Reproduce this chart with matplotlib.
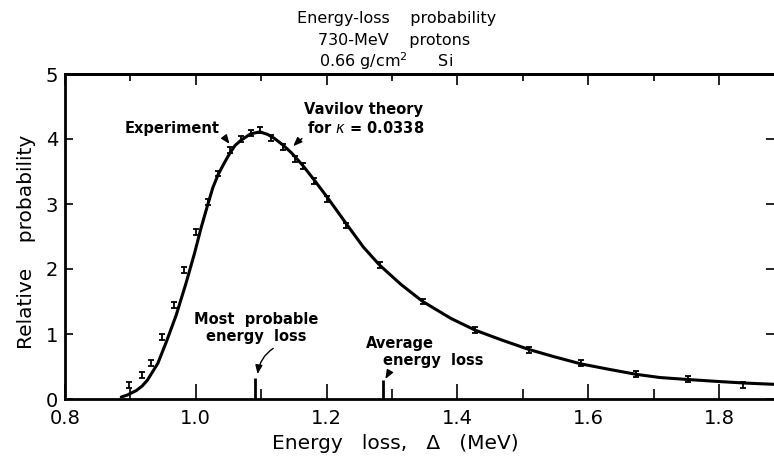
import matplotlib
matplotlib.use("Agg")
import matplotlib.pyplot as plt
from matplotlib.ticker import MultipleLocator, FuncFormatter

# Vavilov theory curve
theory_x = [0.886, 0.895, 0.909, 0.918, 0.926, 0.942, 0.955, 0.970, 0.985, 0.998,
            1.008, 1.018, 1.026, 1.034, 1.044, 1.052, 1.060, 1.069, 1.084, 1.098,
            1.110, 1.120, 1.133, 1.146, 1.163, 1.181, 1.202, 1.232, 1.256, 1.281,
            1.314, 1.347, 1.390, 1.427, 1.467, 1.510, 1.548, 1.589, 1.630,
            1.673, 1.710, 1.752, 1.798, 1.840, 1.886]
theory_y = [0.03, 0.06, 0.13, 0.20, 0.29, 0.55, 0.88, 1.29, 1.78, 2.24,
            2.63, 2.98, 3.25, 3.45, 3.64, 3.78, 3.90, 3.98, 4.08, 4.11,
            4.07, 4.01, 3.91, 3.79, 3.60, 3.37, 3.09, 2.67, 2.34, 2.06,
            1.76, 1.50, 1.24, 1.06, 0.91, 0.76, 0.65, 0.54, 0.46,
            0.38, 0.33, 0.30, 0.27, 0.245, 0.225]

# experimental points
exp_x = [0.898, 0.917, 0.931, 0.949, 0.966, 0.982, 1.000, 1.018, 1.034, 1.052,
         1.069, 1.084, 1.098, 1.115, 1.134, 1.151, 1.164, 1.181, 1.200, 1.230,
         1.281, 1.347, 1.427, 1.510, 1.589, 1.673, 1.752, 1.836]
exp_y = [0.22, 0.37, 0.56, 0.95, 1.45, 1.98, 2.57, 3.03, 3.47, 3.83,
         4.00, 4.09, 4.14, 4.01, 3.88, 3.69, 3.59, 3.35, 3.08, 2.67,
         2.06, 1.50, 1.06, 0.76, 0.55, 0.39, 0.31, 0.22]
exp_err = 0.045

# markers for most probable and average energy loss
mp_loss, mp_height = 1.090, 0.32
avg_loss, avg_height = 1.286, 0.29

title_lines = ["Energy-loss    probability", "730-MeV    protons", "0.66 g/cm$^2$      Si"]

W, H = 774, 461
fig = plt.figure(figsize=(W / 100, H / 100), dpi=100)
ax = fig.add_axes([65 / W, 62 / H, 709 / W, 325 / H])

ax.plot(theory_x, theory_y, color="black", lw=2.2, solid_capstyle="round",
        solid_joinstyle="round")
ax.errorbar(exp_x, exp_y, yerr=exp_err, fmt="none", ecolor="black",
            elinewidth=1.3, capsize=2.2, capthick=1.3)
ax.vlines([mp_loss, avg_loss], 0, [mp_height, avg_height], color="black", lw=2)

ax.set_xlim(0.8, 0.8 + 709 / 654)
ax.set_ylim(0, 5)

for side in ["left", "top", "bottom"]:
    ax.spines[side].set_linewidth(2)
ax.spines["right"].set_visible(False)

ax.xaxis.set_major_locator(MultipleLocator(0.2))
ax.xaxis.set_minor_locator(MultipleLocator(0.1))
ax.yaxis.set_major_locator(MultipleLocator(1))
ax.xaxis.set_major_formatter(FuncFormatter(lambda v, p: f"{v:.1f}"))
ax.tick_params(axis="x", which="major", direction="in", length=11, width=1.2,
               labelsize=14, pad=7)
ax.tick_params(axis="x", which="minor", direction="in", length=7, width=1.2)
ax.tick_params(axis="y", direction="in", length=6, width=1.2, right=True,
               labelsize=14, pad=5)

top = ax.secondary_xaxis("top")
top.xaxis.set_major_locator(MultipleLocator(0.2))
top.xaxis.set_minor_locator(MultipleLocator(0.1))
top.tick_params(which="major", direction="in", length=8, width=1.2, labeltop=False)
top.tick_params(which="minor", direction="in", length=5, width=1.2)
top.spines["top"].set_linewidth(2)

# titles and axis labels
for i, line in enumerate(title_lines):
    fig.text([397, 394, 386][i] / W, 1 - [18, 40, 61][i] / H, line,
             ha="center", va="center", fontsize=11.5)
fig.text(27 / W, 1 - 242 / H, "Relative    probability", rotation=90,
         ha="center", va="center", fontsize=14.5)
fig.text(395 / W, 1 - 443 / H, "Energy   loss,   \u0394   (MeV)",
         ha="center", va="center", fontsize=14.5)

arrow = dict(arrowstyle="-|>,head_length=0.5,head_width=0.2", color="black", lw=1)
note = dict(fontsize=10.5, fontweight="bold")

ax.annotate("Experiment", xy=(1.054, 3.89), xytext=(1.037, 4.16),
            ha="right", va="center", **note,
            arrowprops=dict(arrow, connectionstyle="arc3,rad=-0.4"))
ax.text(1.165, 4.45, "Vavilov theory", ha="left", va="center", **note)
ax.annotate("for $\\kappa$ = 0.0338", xy=(1.146, 3.86), xytext=(1.170, 4.17),
            ha="left", va="center", **note,
            arrowprops=dict(arrow, connectionstyle="arc3,rad=0.3"))

ax.text(1.092, 1.23, "Most  probable", ha="center", va="center", **note)
ax.annotate("energy  loss", xy=(mp_loss + 0.004, mp_height + 0.02), xytext=(1.092, 0.96),
            ha="center", va="center", **note,
            arrowprops=dict(arrow, connectionstyle="arc3,rad=0.3",
                            relpos=(0.75, 0.0)))
ax.text(1.312, 0.85, "Average", ha="center", va="center", **note)
ax.annotate("energy  loss", xy=(avg_loss + 0.002, avg_height - 0.02), xytext=(1.363, 0.59),
            ha="center", va="center", **note,
            arrowprops=dict(arrow, connectionstyle="arc3,rad=0.3",
                            relpos=(0.2, 0.0)))

fig.savefig("out.png", dpi=100)
